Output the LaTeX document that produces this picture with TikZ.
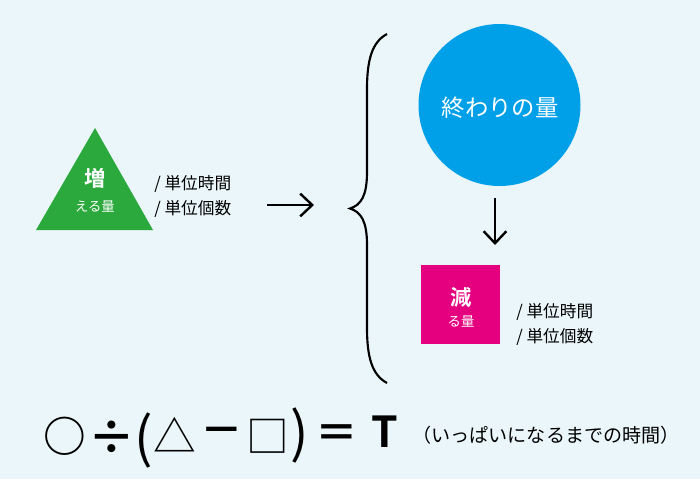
\documentclass[tikz,border=0pt]{standalone}
\usepackage{fontspec}
\setmainfont{Noto Sans CJK JP}[BoldFont={Noto Sans CJK JP Bold}]
\usepackage{tikz}
\usetikzlibrary{positioning, arrows.meta}

\definecolor{bgcol}{RGB}{234,246,249}
\definecolor{grn}{RGB}{43,169,61}
\definecolor{blu}{RGB}{0,160,233}
\definecolor{mag}{RGB}{228,0,127}

\begin{document}
\begin{tikzpicture}[
    x=0.75pt, y=-0.75pt,
    perlabel/.style={font=\fontsize{12.5}{18.75}\selectfont, align=left, inner sep=0pt, anchor=west},
    head/.style={font=\fontsize{16}{18}\selectfont\bfseries, text=white, inner sep=0pt},
    sub/.style={font=\fontsize{10}{12}\selectfont, text=white, inner sep=0pt},
    arrow/.style={-{Straight Barb[length=9pt, width=17pt]}, line width=1.8pt},
    glyph/.style={font=\fontsize{32}{36}\selectfont\bfseries, inner sep=0pt},
    thinglyph/.style={font=\fontsize{32}{36}\selectfont, inner sep=0pt},
    bigglyph/.style={font=\fontsize{41}{44}\selectfont, inner sep=0pt}
]
    \fill[bgcol] (0,0) rectangle (700,479);
    \useasboundingbox (0,0) rectangle (700,479);

    % increase
    \fill[grn] (95,128) -- (153,230) -- (36,230) -- cycle;
    \node [head] (inc) at (95,178) {増};
    \node [sub] (incsub) at (95,206) {える量};
    \node [perlabel] (incper) at (154,196) {/ 単位時間\\/ 単位個数};

    \coordinate (ra) at (267,205);
    \coordinate (rb) at (314,205);
    \draw [arrow] (ra) -- (rb);

    % brace
    \draw [line width=1.6pt] (387,34) .. controls (372,42) and (367,60) .. (367,89) -- (367,172)
        .. controls (367,196) and (361,205) .. (350,208.5)
        .. controls (361,212) and (367,221) .. (367,245) -- (367,328)
        .. controls (367,357) and (372,375) .. (387,383);

    % end amount
    \node [circle, fill=blu, minimum size=121.5pt, inner sep=0pt] (endq) at (499.5,105) {};
    \node [font=\fontsize{17.5}{20}\selectfont, text=white, inner sep=0pt] (endtext) at (500,108) {終わりの量};

    \coordinate (da) at (495,198);
    \coordinate (db) at (495,245);
    \draw [arrow] (da) -- (db);

    % decrease
    \node [rectangle, fill=mag, minimum size=59.25pt, inner sep=0pt] (dec) at (460.5,304.5) {};
    \node [head] (decmain) at (461,297) {減};
    \node [sub] (decsub) at (461,321) {る量};
    \node [perlabel] (decper) at (516,324.5) {/ 単位時間\\/ 単位個数};

    % formula
    \node [glyph] (fcirc) at (64.5,436) {○};
    \node [glyph, font=\fontsize{35}{40}\selectfont\bfseries] (fdiv) at (112,438) {÷};
    \node [bigglyph] (flpar) at (144,440) {(};
    \node [thinglyph] (ftri) at (175,435) {△};
    \node [glyph] (fminus) at (221.5,436) {－};
    \node [thinglyph] (fsq) at (268,436) {□};
    \node [bigglyph] (frpar) at (300,435) {)};
    \node [glyph] (feq) at (336.5,436.5) {＝};
    \node [glyph] (ft) at (385,432) {T};
    \node [font=\fontsize{14.3}{16}\selectfont, inner sep=0pt] (note) at (546,435) {（いっぱいになるまでの時間）};
\end{tikzpicture}
\end{document}
